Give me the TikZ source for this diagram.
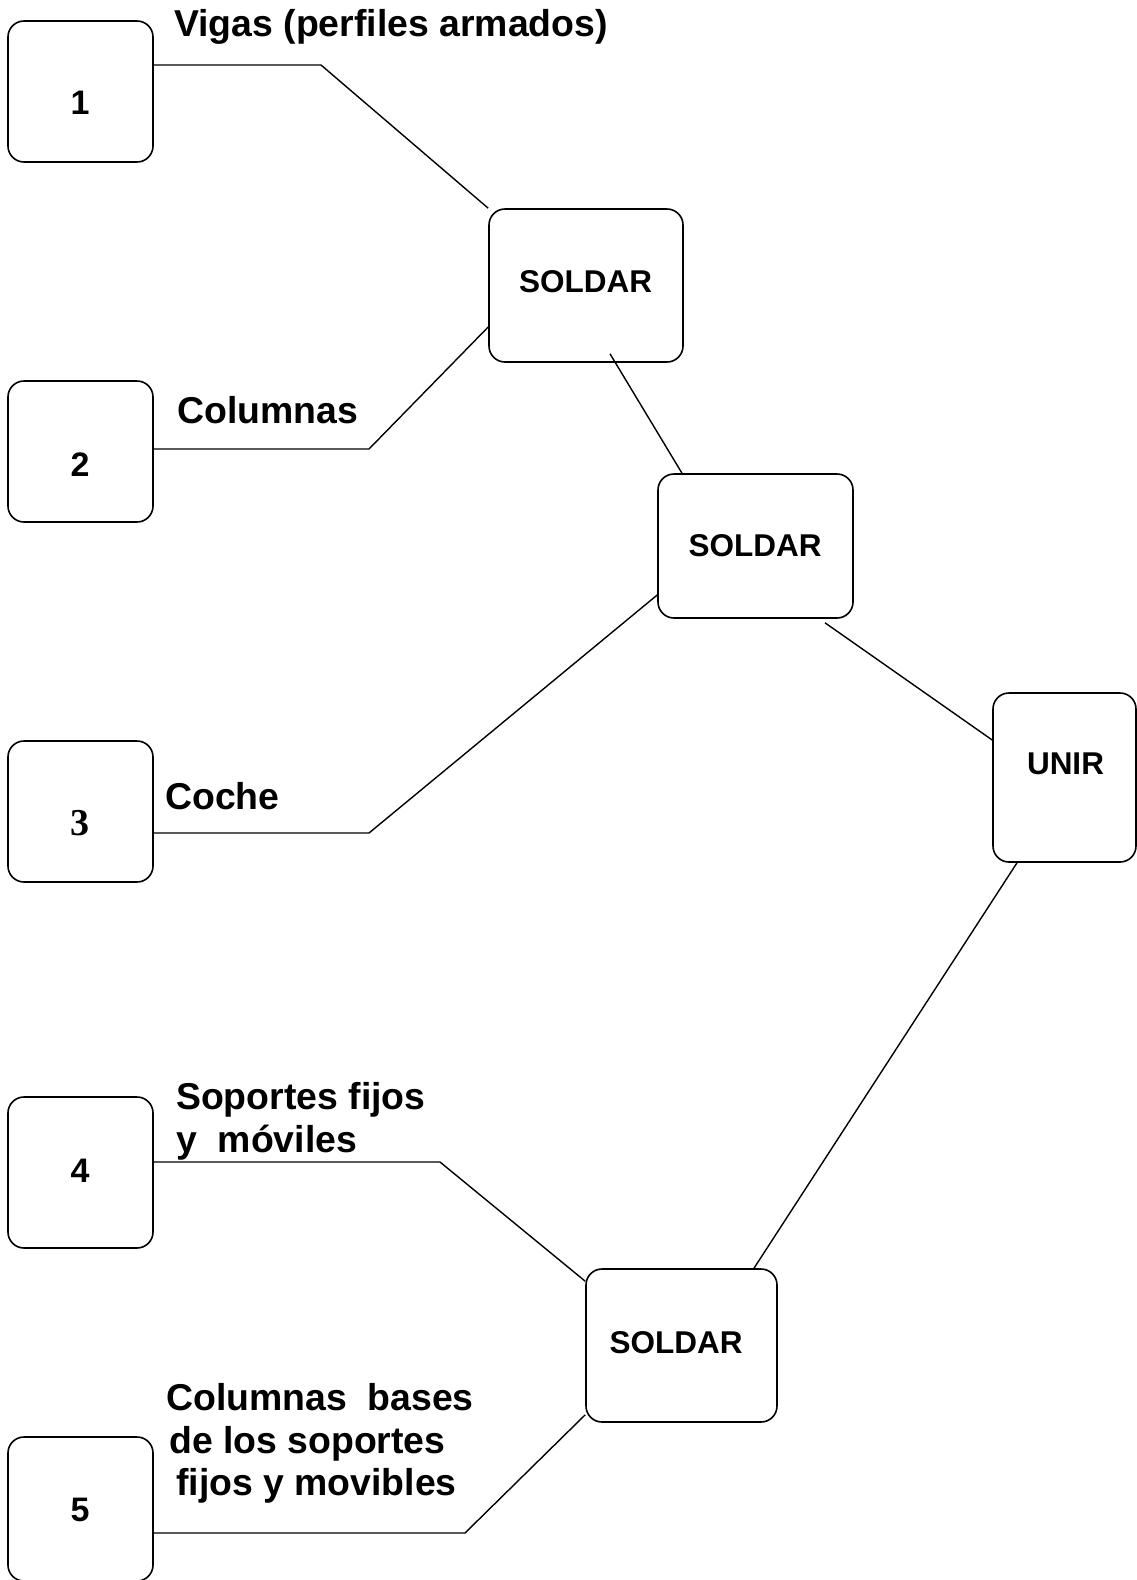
\documentclass[tikz,border=0pt]{standalone}
\usepackage{fontspec}
\setmainfont{Liberation Sans}
\newfontfamily\timesfont{Liberation Serif}
\begin{document}
\begin{tikzpicture}[x=1pt,y=-1pt,
  box/.style={draw, line width=1.6pt, rounded corners=16pt, inner sep=0pt},
  inbox/.style={box, minimum width=145pt},
  link/.style={line width=1.4pt, line join=miter},
  numtxt/.style={inner sep=0pt, font=\fontsize{34}{38}\selectfont\bfseries},
  optxt/.style={inner sep=0pt, font=\fontsize{31.5}{36}\selectfont\bfseries},
  lbl/.style={inner sep=0pt, anchor=base west, font=\fontsize{37.4}{43}\selectfont\bfseries}]
\useasboundingbox (0,0) rectangle (1137,1580);

% input boxes
\node[inbox, minimum height=141pt] (b1) at (80.5,91.5) {};
\node[inbox, minimum height=141pt] (b2) at (80.5,451.5) {};
\node[inbox, minimum height=141pt] (b3) at (80.5,811.5) {};
\node[inbox, minimum height=151pt] (b4) at (80.5,1172.5) {};
\node[inbox, minimum height=144pt] (b5) at (80.5,1509) {};

\node[numtxt] (n1) at (80,103) {1};
\node[numtxt] (n2) at (80,465) {2};
\node[numtxt, font=\fontsize{38}{42}\selectfont\bfseries\timesfont] (n3) at (80,823) {3};
\node[numtxt] (n4) at (80,1171) {4};
\node[numtxt] (n5) at (80,1510) {5};

% operation boxes
\node[box, minimum width=194pt, minimum height=153pt] (s1) at (586,285.5) {};
\node[box, minimum width=195pt, minimum height=144pt] (s2) at (755.5,546) {};
\node[box, minimum width=143pt, minimum height=169pt] (u)  at (1064.5,777.5) {};
\node[box, minimum width=191pt, minimum height=153pt] (s3) at (681.5,1345.5) {};

\node[optxt] (t1) at (585.5,282) {SOLDAR};
\node[optxt] (t2) at (755,546) {SOLDAR};
\node[optxt] (tu) at (1065.5,764) {UNIR};
\node[optxt] (t3) at (676,1343) {SOLDAR};

% part labels
\node[lbl] (l1) at (174,36) {Vigas (perfiles armados)};
\node[lbl] (l2) at (177,423) {Columnas};
\node[lbl] (l3) at (165,809) {Coche};
\node[lbl] (l4a) at (176,1109) {Soportes fijos};
\node[lbl] (l4b) at (176,1152) {y\ \ móviles};
\node[lbl] (l5a) at (166,1410) {Columnas\ \ bases};
\node[lbl] (l5b) at (169,1453) {de los soportes};
\node[lbl] (l5c) at (176,1495) {fijos y movibles};

% bend points of the connectors
\coordinate (k1) at (321,65);
\coordinate (k2) at (369,449);
\coordinate (k3) at (369,833);
\coordinate (k4) at (440,1162);
\coordinate (k5) at (465,1533);

% connectors
\draw[link] (b1.east |- k1) -- (k1) -- (s1.north west);
\draw[link] (b2.east |- k2) -- (k2) -- ([yshift=-41.5pt]s1.west);
\draw[link] ([xshift=24pt,yshift=9pt]s1.south) -- ([xshift=-73.5pt]s2.north);
\draw[link] ([xshift=69.5pt,yshift=-4pt]s2.south) -- ([yshift=37.5pt]u.west);
\draw[link] ([yshift=-49pt]s2.west) -- (k3) -- (b3.east |- k3);
\draw[link] ([xshift=-47.5pt]u.south) -- ([xshift=72.5pt]s3.north);
\draw[link] (b4.east |- k4) -- (k4) -- ([yshift=-13pt]s3.north west);
\draw[link] ([yshift=8pt]s3.south west) -- (k5) -- (b5.east |- k5);
\end{tikzpicture}
\end{document}
